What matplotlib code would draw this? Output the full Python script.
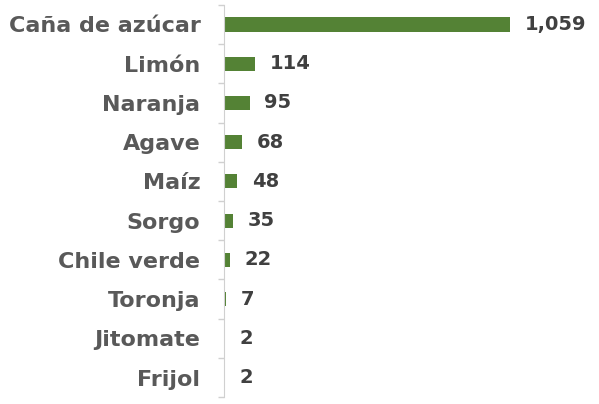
import matplotlib.pyplot as plt
import numpy as np

# datos
cultivos = ['Caña de azúcar', 'Limón', 'Naranja', 'Agave', 'Maíz', 'Sorgo',
            'Chile verde', 'Toronja', 'Jitomate', 'Frijol']
valores = [1059, 114, 95, 68, 48, 35, 22, 7, 2, 2]

plt.rcParams['font.family'] = ['DejaVu Sans']

fig = plt.figure(figsize=(5.99, 4.04), dpi=100)
ax = fig.add_axes([0.374, 0.017, 0.606, 0.971])

y = np.arange(len(cultivos))
ax.barh(y, valores, height=0.36, color='#548235')
ax.set_ylim(len(cultivos) - 0.5, -0.5)
ax.set_xlim(0, 1345)

for yi, v in zip(y, valores):
    ax.annotate('{:,}'.format(v), (v, yi), xytext=(10.5, 0), textcoords='offset points',
                va='center', ha='left', fontsize=14, fontweight='bold', color='#404040')

ax.set_yticks(y)
ax.set_yticklabels(cultivos, fontsize=16, fontweight='bold', color='#595959')
ax.set_yticks(np.arange(-0.5, len(cultivos)), minor=True)
ax.tick_params(axis='y', which='major', length=0, pad=17)
ax.tick_params(axis='y', which='minor', length=4, color='#d0d0d0', width=1)
ax.set_xticks([])
for s in ['top', 'right', 'bottom']:
    ax.spines[s].set_visible(False)
ax.spines['left'].set_color('#d0d0d0')

plt.savefig('out.png', dpi=100)
